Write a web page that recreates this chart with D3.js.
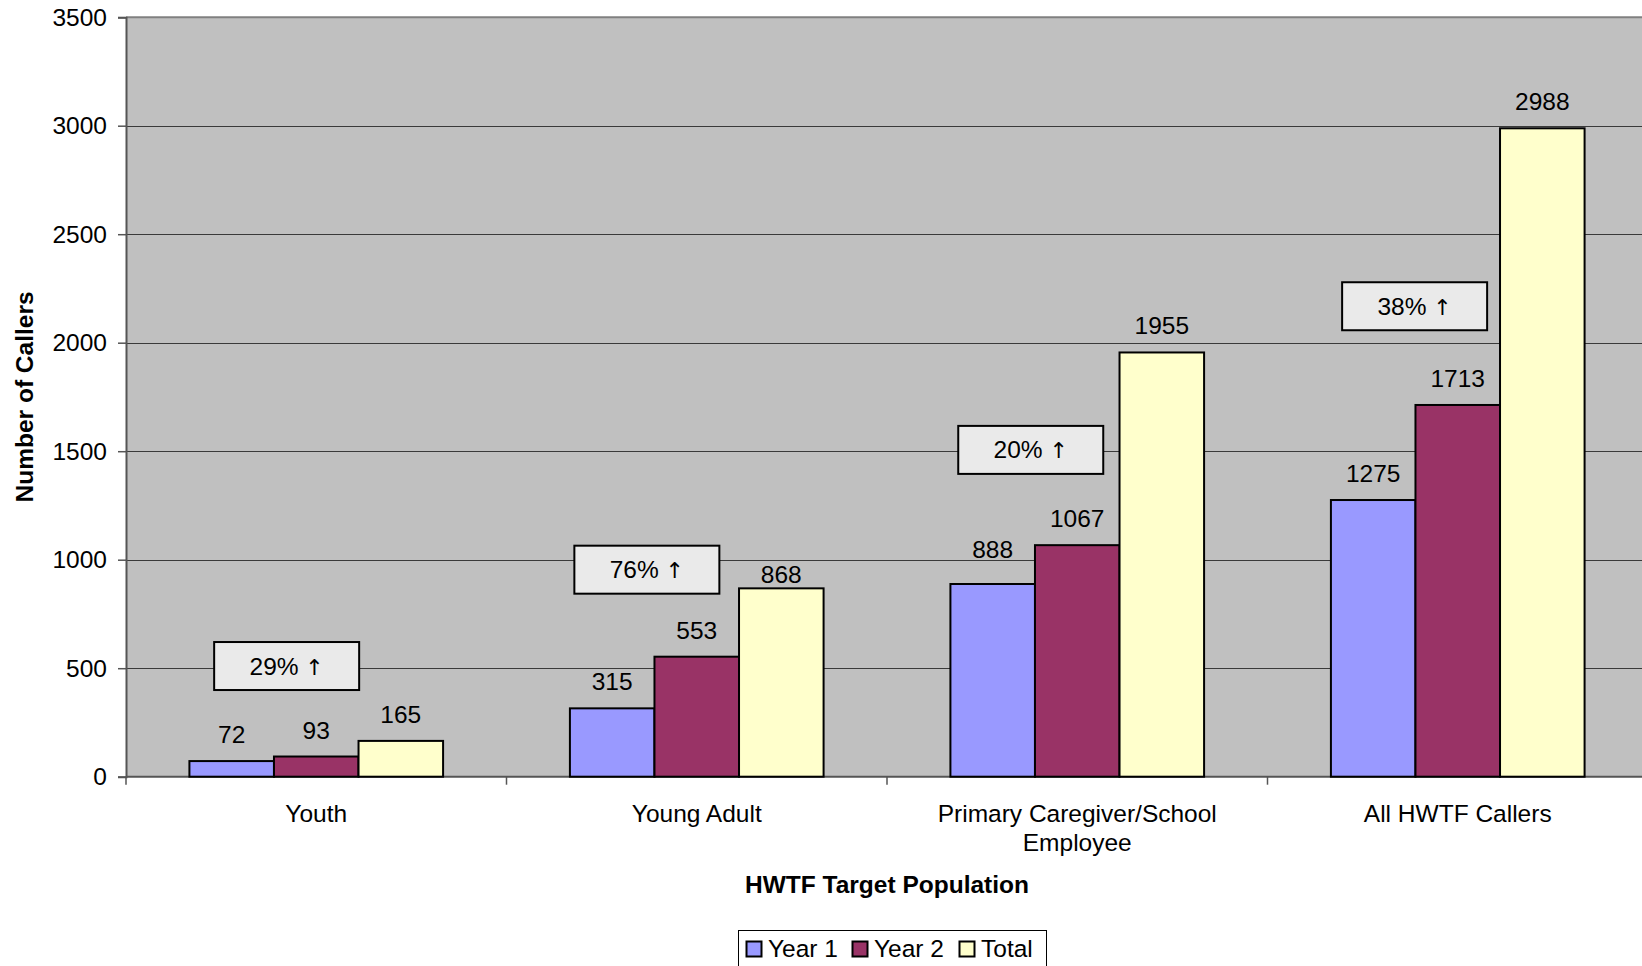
<!DOCTYPE html>
<html>
<head>
<meta charset="utf-8">
<script src="https://cdn.jsdelivr.net/npm/d3@7"></script>
<style>
  html, body { margin: 0; padding: 0; background: #fff; overflow: hidden; }
  svg { display: block; font-family: "Liberation Sans", Arial, sans-serif; }
</style>
</head>
<body>
<svg id="chart" width="1642" height="966"></svg>
<script>
// ---- Data ----
const categories = ["Youth", "Young Adult", "Primary Caregiver/School Employee", "All HWTF Callers"];
const seriesNames = ["Year 1", "Year 2", "Total"];
const year1 = [72, 315, 888, 1275];
const year2 = [93, 553, 1067, 1713];
const total = [165, 868, 1955, 2988];
const yTicks = [0, 500, 1000, 1500, 2000, 2500, 3000, 3500];
const changeText = ["29%", "76%", "20%", "38%"];
const changeLevels = [510, 954, 1506, 2168];          // vertical level of each note, in callers
const changeShift = [-0.35, -0.59, -0.55, -0.51];    // horizontal shift of each note, in bar widths
const yTitle = "Number of Callers";
const xTitle = "HWTF Target Population";

const seriesValues = [year1, year2, total];
const colors = ["#9999ff", "#993366", "#ffffcc"];

// ---- Layout ----
const svg = d3.select("#chart");
const m = { left: 126, top: 17.2, right: 1648, bottom: 776.7 };
const FS = 24.5;

const x0 = d3.scaleBand().domain(categories).range([m.left, m.right]).paddingInner(0).paddingOuter(0);
const x1 = d3.scaleBand().domain(seriesNames).range([0, x0.bandwidth()]).paddingInner(0).paddingOuter(0.75);
const y = d3.scaleLinear().domain([0, 3500]).range([m.bottom, m.top]);

// plot background
svg.append("rect")
  .attr("x", m.left).attr("y", m.top)
  .attr("width", m.right - m.left).attr("height", m.bottom - m.top)
  .attr("fill", "#c0c0c0");

// top border
svg.append("line")
  .attr("x1", m.left).attr("x2", m.right)
  .attr("y1", y(3500)).attr("y2", y(3500))
  .attr("stroke", "#808080").attr("stroke-width", 2);

// gridlines
svg.append("g").selectAll("line")
  .data(yTicks.filter(d => d > 0 && d < 3500))
  .join("line")
  .attr("x1", m.left).attr("x2", m.right)
  .attr("y1", d => Math.round(y(d)) + 0.5).attr("y2", d => Math.round(y(d)) + 0.5)
  .attr("stroke", "#3a3a3a").attr("stroke-width", 1.2);

// y axis
const yAxis = d3.axisLeft(y).tickValues(yTicks).tickSize(8).tickPadding(11).tickFormat(d3.format("d"));
const gy = svg.append("g").attr("transform", `translate(${m.left},0)`).call(yAxis);
gy.select(".domain").attr("stroke", "#555").attr("stroke-width", 2);
gy.selectAll(".tick line").attr("stroke", "#555").attr("stroke-width", 1.5);
gy.selectAll(".tick text").attr("font-size", FS).attr("fill", "#000")
  .attr("font-family", "'Liberation Sans', Arial, sans-serif");

// x axis (category boundary ticks)
const boundaries = categories.map(c => x0(c)).slice(1);
svg.append("line")
  .attr("x1", m.left).attr("x2", m.right)
  .attr("y1", m.bottom).attr("y2", m.bottom)
  .attr("stroke", "#555").attr("stroke-width", 2);
svg.append("g").selectAll("line").data([m.left, ...boundaries]).join("line")
  .attr("x1", d => d).attr("x2", d => d)
  .attr("y1", m.bottom).attr("y2", m.bottom + 8)
  .attr("stroke", "#555").attr("stroke-width", 1.5);

// category labels (wrapped like the original)
const catLines = {
  "Youth": ["Youth"],
  "Young Adult": ["Young Adult"],
  "Primary Caregiver/School Employee": ["Primary Caregiver/School", "Employee"],
  "All HWTF Callers": ["All HWTF Callers"]
};
categories.forEach(c => {
  const t = svg.append("text")
    .attr("x", x0(c) + x0.bandwidth() / 2)
    .attr("y", 821.5)
    .attr("text-anchor", "middle")
    .attr("font-size", FS).attr("fill", "#000");
  catLines[c].forEach((ln, i) => {
    t.append("tspan").attr("x", x0(c) + x0.bandwidth() / 2).attr("dy", i === 0 ? 0 : 29.5).text(ln);
  });
});

// bars
const groups = svg.append("g").selectAll("g")
  .data(categories)
  .join("g")
  .attr("transform", d => `translate(${x0(d)},0)`);

const cells = (c, ci) => seriesNames.map((s, si) => ({ s, si, ci, v: seriesValues[si][ci] }));

groups.selectAll("rect")
  .data(cells)
  .join("rect")
  .attr("x", d => x1(d.s))
  .attr("y", d => y(d.v))
  .attr("width", x1.bandwidth())
  .attr("height", d => y(0) - y(d.v))
  .attr("fill", d => colors[d.si])
  .attr("stroke", "#000").attr("stroke-width", 2);

// label placement: a few labels were moved in the original to avoid the notes
const labelGap = (d) => {
  if (d.si === 2 && d.ci === 1) return 5;     // 868 sits just above its bar
  if (d.si === 0 && d.ci === 2) return 26;    // 888 raised a bit
  return 18;
};

groups.selectAll("text.val")
  .data(cells)
  .join("text")
  .attr("class", "val")
  .attr("x", d => x1(d.s) + x1.bandwidth() / 2)
  .attr("y", d => y(d.v) - labelGap(d))
  .attr("text-anchor", "middle")
  .attr("font-size", FS).attr("fill", "#000")
  .text(d => d.v);

// change annotation boxes
const boxW = 145, boxH = 48;
categories.forEach((c, i) => {
  const cx = x0(c) + x0.bandwidth() / 2 + changeShift[i] * x1.bandwidth();
  const cy = y(changeLevels[i]);
  svg.append("rect")
    .attr("x", cx - boxW / 2).attr("y", cy - boxH / 2)
    .attr("width", boxW).attr("height", boxH)
    .attr("fill", "#eaeaea").attr("stroke", "#000").attr("stroke-width", 2);
  const t = svg.append("text")
    .attr("x", cx).attr("y", cy + 8.5)
    .attr("text-anchor", "middle")
    .attr("font-size", FS).attr("fill", "#000");
  t.append("tspan").text(changeText[i] + " ");
  t.append("tspan").attr("font-family", "'DejaVu Sans', sans-serif").attr("font-size", 22).text("\u2191");
});

// axis titles
svg.append("text")
  .attr("transform", `translate(33,${(m.top + m.bottom) / 2}) rotate(-90)`)
  .attr("text-anchor", "middle")
  .attr("font-size", 24.5).attr("font-weight", "bold").attr("fill", "#000")
  .text(yTitle);

svg.append("text")
  .attr("x", 887).attr("y", 893)
  .attr("text-anchor", "middle")
  .attr("font-size", 24.5).attr("font-weight", "bold").attr("fill", "#000")
  .text(xTitle);

// legend
const lg = svg.append("g");
lg.append("rect")
  .attr("x", 738.5).attr("y", 930.5).attr("width", 308).attr("height", 50)
  .attr("fill", "#fff").attr("stroke", "#000").attr("stroke-width", 1);
const legendX = [746.5, 852.5, 959.5];
seriesNames.forEach((s, i) => {
  lg.append("rect")
    .attr("x", legendX[i]).attr("y", 941.5).attr("width", 15).attr("height", 15)
    .attr("fill", colors[i]).attr("stroke", "#000").attr("stroke-width", 2);
  lg.append("text")
    .attr("x", legendX[i] + 21.5).attr("y", 957)
    .attr("font-size", FS).attr("fill", "#000")
    .text(s);
});
</script>
</body>
</html>
